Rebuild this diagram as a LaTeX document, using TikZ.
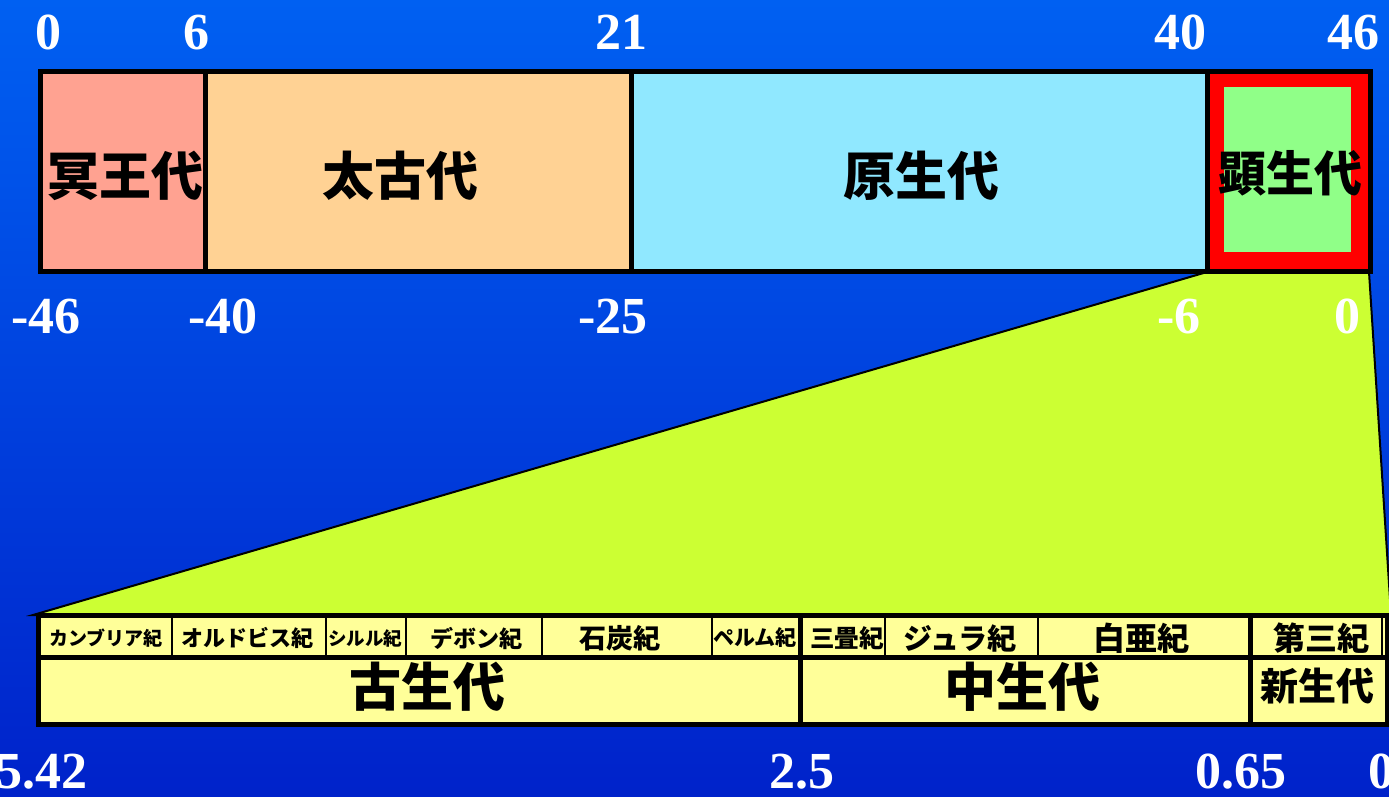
\documentclass[tikz,border=0pt]{standalone}
\usepackage{fontspec}
\setmainfont{Liberation Serif}
\newfontfamily\jp{Noto Sans CJK JP}
\definecolor{topblue}{RGB}{0,96,242}
\definecolor{botblue}{RGB}{0,34,202}
\definecolor{hadeanc}{RGB}{255,162,145}
\definecolor{archeanc}{RGB}{255,210,148}
\definecolor{protc}{RGB}{144,232,255}
\definecolor{phanred}{RGB}{255,0,0}
\definecolor{phangreen}{RGB}{144,255,136}
\definecolor{zoomc}{RGB}{204,255,51}
\definecolor{paley}{RGB}{255,255,153}
\tikzset{
  seg/.style={draw=black, line width=5pt, rectangle, inner sep=0pt, outer sep=0pt},
  pcell/.style={draw=black, line width=2pt, rectangle, inner sep=0pt, outer sep=0pt, fill=paley},
  jl/.style={font=\jp\bfseries\fontsize{#1}{#1}\selectfont, inner sep=0pt, text=black},
  num/.style={text=white, font=\bfseries\fontsize{52}{52}\selectfont, inner sep=0pt, anchor=base},
  thick line/.style={draw=black, line width=5pt},
}
\begin{document}
\begin{tikzpicture}[x=1pt,y=-1pt]
\shade[top color=topblue, bottom color=botblue] (0,0) rectangle (1389,796);
\useasboundingbox (0,0) rectangle (1389,796);

% zoom trapezoid
\coordinate (z1) at (1207,272);
\coordinate (z2) at (1369,272);
\coordinate (z3) at (1391,615);
\coordinate (z4) at (33,615);
\filldraw[fill=zoomc, draw=black, line width=2pt] (z1) -- (z2) -- (z3) -- (z4) -- cycle;

% top bar
\node[seg, fill=hadeanc, minimum width=165pt, minimum height=200pt] (hadean) at (122.5,171) {};
\node[seg, fill=archeanc, minimum width=426pt, minimum height=200pt] (archean) at (418,171) {};
\node[seg, fill=protc, minimum width=576pt, minimum height=200pt] (prot) at (919,171) {};
\node[seg, fill=phanred, minimum width=163pt, minimum height=200pt] (phan) at (1288.5,171) {};
\node[rectangle, fill=phangreen, inner sep=0pt, minimum width=127pt, minimum height=165pt] (phanin) at (1287.5,169.5) {};

\node[jl=52] (hadeanL) at (125,176) {冥王代};
\node[jl=52] (archeanL) at (400,176) {太古代};
\node[jl=52] (protL) at (921,176) {原生代};
\node[jl=48] (phanL) at (1290,173) {顕生代};

% top numbers
\node[num] (t0) at (48,49) {0};
\node[num] (t6) at (196,49) {6};
\node[num] (t21) at (621,49) {21};
\node[num] (t40) at (1180,49) {40};
\node[num] (t46) at (1353,49) {46};

\node[num] (b46) at (46,333) {-46};
\node[num] (b40) at (223,333) {-40};
\node[num] (b25) at (613,333) {-25};
\node[num] (b6) at (1179,333) {-6};
\node[num] (b0) at (1347,333) {0};

% bottom bar: period cells
\node[pcell, minimum width=133.5pt, minimum height=42pt] (cam) at (105.25,636) {};
\node[pcell, minimum width=154pt, minimum height=42pt] (ord) at (249,636) {};
\node[pcell, minimum width=80pt, minimum height=42pt] (sil) at (366,636) {};
\node[pcell, minimum width=136pt, minimum height=42pt] (dev) at (474,636) {};
\node[pcell, minimum width=170pt, minimum height=42pt] (carb) at (627,636) {};
\node[pcell, minimum width=88.5pt, minimum height=42pt] (perm) at (756.25,636) {};
\node[pcell, minimum width=84.5pt, minimum height=42pt] (tri) at (842.75,636) {};
\node[pcell, minimum width=153pt, minimum height=42pt] (jur) at (961.5,636) {};
\node[pcell, minimum width=212pt, minimum height=42pt] (cre) at (1144,636) {};
\node[pcell, minimum width=132pt, minimum height=42pt] (ter) at (1316,636) {};
\node[pcell, minimum width=5pt, minimum height=42pt] (qua) at (1384.5,636) {};

% era cells
\node[seg, fill=paley, minimum width=762pt, minimum height=67pt] (paleo) at (419.5,691) {};
\node[seg, fill=paley, minimum width=449.5pt, minimum height=67pt] (meso) at (1025.25,691) {};
\node[seg, fill=paley, minimum width=137pt, minimum height=67pt] (ceno) at (1318.5,691) {};

% thick outer frame and era boundaries
\draw[thick line] (cam.north west) rectangle (ceno.south east);
\draw[thick line] (perm.north east) -- (perm.south east);
\draw[thick line] (cre.north east) -- (cre.south east);
\draw[thick line] (cam.south west) -- (qua.south east);

% period labels
\node[jl=19] (camL) at (106,638) {カンブリア紀};
\node[jl=22] (ordL) at (247,638) {オルドビス紀};
\node[jl=18.5] (silL) at (365,638) {シルル紀};
\node[jl=23] (devL) at (476,638) {デボン紀};
\node[jl=27] (carbL) at (620,638) {石炭紀};
\node[jl=21] (permL) at (755,638) {ペルム紀};
\node[jl=24.5] (triL) at (847,638) {三畳紀};
\node[jl=29] (jurL) at (960,638) {ジュラ紀};
\node[jl=32] (creL) at (1141,638) {白亜紀};
\node[jl=32] (terL) at (1321,638) {第三紀};

% era labels
\node[jl=52] (paleoL) at (427,687) {古生代};
\node[jl=52] (mesoL) at (1022,687) {中生代};
\node[jl=38] (cenoL) at (1317,686) {新生代};

% bottom numbers
\node[num, anchor=base east] (n542) at (88,788) {5.42};
\node[num] (n25) at (802,788) {2.5};
\node[num] (n065) at (1241,788) {0.65};
\node[num, anchor=base west] (n0) at (1368,788) {0};
\end{tikzpicture}
\end{document}
